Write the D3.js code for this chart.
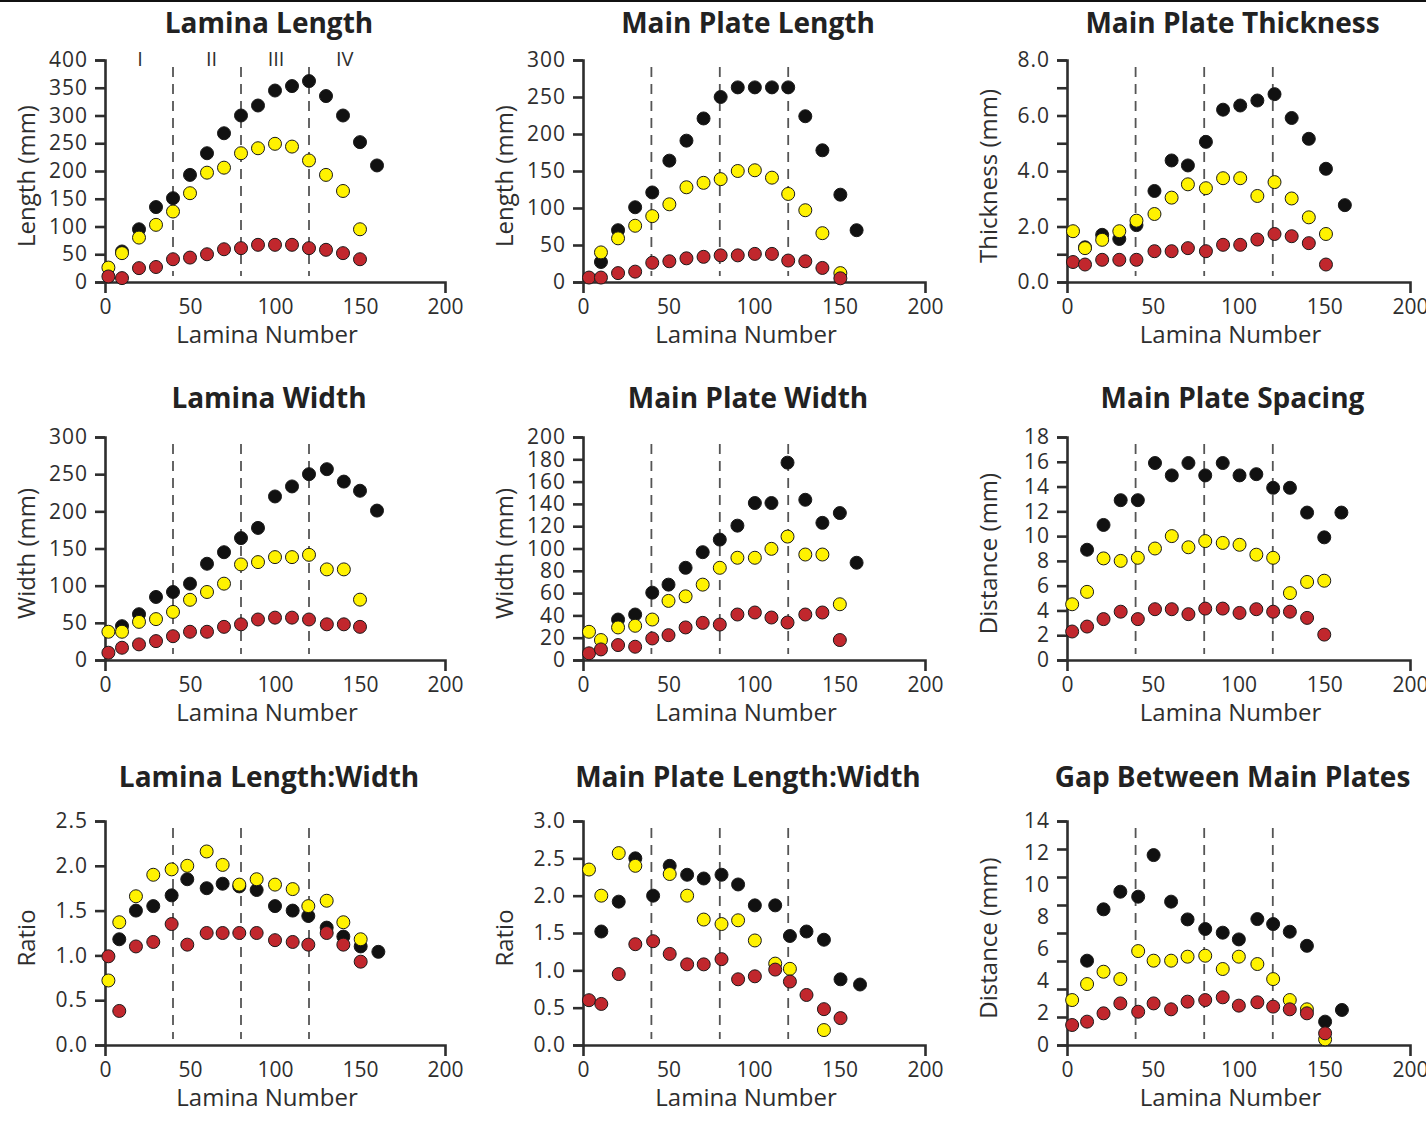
<!DOCTYPE html>
<html>
<head>
<meta charset="utf-8">
<script src="https://cdn.jsdelivr.net/npm/d3@7"></script>
<style>
body { margin: 0; background: #fff; }
svg { display: block; font-family: "Open Sans", sans-serif; }
</style>
</head>
<body>
<svg id="chart" width="1426" height="1141"></svg>
<script>
// shared
var dividers = [40, 80, 120];
var xTicks = [0, 50, 100, 150, 200];
var romanLabels = ['I', 'II', 'III', 'IV'];
var romanPos = [20.6, 62.7, 100.6, 141];

// Lamina Length
var llX      = [2, 10, 20, 30, 40, 50, 60, 70, 80, 90, 100, 110, 120, 130, 140, 150, 160];
var llBlack  = [null, 55, 95, 135, 151, 193, 232, 268, 300, 318, 345, 353, 362, 335, 300, 252, 210];
var llYellow = [26, 52, 80, 103, 127, 160, 197, 206, 232, 241, 249, 244, 219, 193, 164, 95, null];
var llRed    = [10, 7, 25, 27, 41, 44, 50, 59, 61, 67, 67, 67, 61, 58, 52, 41, null];

// Main Plate Length
var mplX      = [3.5, 10.5, 20.5, 30.5, 40.5, 50.5, 60.5, 70.5, 80.5, 90.5, 100.5, 110.5, 120, 130, 140, 150.5, 160];
var mplBlack  = [null, 27, 70, 101, 121, 164, 191, 221, 250, 263, 263, 263, 263, 224, 178, 118, 70];
var mplYellow = [null, 40, 59, 76, 89, 105, 128, 134, 139, 150, 151, 141, 119, 97, 66, 12, null];
var mplRed    = [6, 6, 12, 14, 26, 28, 32, 34, 36, 36, 38, 38, 29, 28, 19, 5, null];

// Main Plate Thickness
var mptX      = [3.5, 10.5, 20.5, 30.5, 40.5, 51, 61, 70.5, 81, 91, 101, 111, 121, 131, 141, 151, 162];
var mptBlack  = [null, 1.25, 1.7, 1.55, 2.05, 3.28, 4.38, 4.2, 5.05, 6.21, 6.36, 6.54, 6.77, 5.91, 5.16, 4.08, 2.77];
var mptYellow = [1.83, 1.22, 1.52, 1.83, 2.21, 2.45, 3.04, 3.52, 3.38, 3.74, 3.74, 3.1, 3.6, 3.01, 2.33, 1.73, null];
var mptRed    = [0.72, 0.63, 0.8, 0.8, 0.8, 1.11, 1.11, 1.22, 1.11, 1.34, 1.34, 1.53, 1.73, 1.65, 1.4, 0.63, null];

// Lamina Width
var lwX      = [2, 10, 20, 30, 40, 50, 60, 70, 80, 90, 100, 110, 120, 130.5, 140.5, 150, 160];
var lwBlack  = [null, 45.5, 61.6, 84.8, 91.5, 102.7, 129.5, 145, 164, 177.7, 220, 233.5, 250, 256.7, 240, 227.7, 201];
var lwYellow = [38, 38, 51.3, 55, 64.7, 81, 91.5, 102.7, 128.6, 131.7, 138.4, 138.4, 141.5, 121.9, 121.9, 81.2, null];
var lwRed    = [9.8, 16.5, 21, 25.4, 32, 38, 38, 44.6, 48, 54.5, 57, 57, 54.5, 48, 48, 44.6, null];

// Main Plate Width
var mpwX      = [3.5, 10.5, 20.5, 30.5, 40.5, 50, 60, 70, 80, 90.3, 100.5, 110.2, 119.6, 130, 140, 150.2, 160];
var mpwBlack  = [null, null, 36.3, 40.8, 60.4, 67.6, 82.7, 96.7, 108, 120.5, 140.8, 140.8, 177, 143.7, 123, 131.8, 87.2];
var mpwYellow = [25.3, 17.9, 29.2, 30.7, 36.3, 53, 57.1, 67.6, 82.7, 91.7, 91.7, 99.7, 110.7, 94.6, 94.6, 50, null];
var mpwRed    = [6, 9.5, 13.4, 11.9, 19.3, 22.3, 29.2, 33.3, 31.8, 40.8, 42.6, 38.1, 33.6, 40.8, 42.6, 17.9, null];

// Main Plate Spacing
var mpsX      = [3, 11.7, 21.3, 31.3, 41.3, 51.3, 61.1, 70.8, 80.6, 90.8, 100.6, 110.4, 120.2, 130, 140, 150, 160];
var mpsBlack  = [null, 8.9, 10.9, 12.9, 12.9, 15.9, 14.9, 15.9, 14.9, 15.9, 14.9, 15, 13.9, 13.9, 11.9, 9.9, 11.9];
var mpsYellow = [4.5, 5.5, 8.2, 8, 8.25, 9, 10, 9.1, 9.6, 9.45, 9.3, 8.5, 8.25, 5.4, 6.3, 6.4, null];
var mpsRed    = [2.3, 2.7, 3.3, 3.9, 3.3, 4.1, 4.1, 3.7, 4.15, 4.15, 3.8, 4.1, 3.9, 3.9, 3.4, 2.05, null];

// Lamina Length:Width
var lrX      = [2, 8.4, 18.2, 28.4, 39.2, 48.4, 59.8, 69.2, 79, 89.2, 100, 110.4, 119.6, 130.4, 140.2, 150.4, 160.8];
var lrBlack  = [null, 1.18, 1.5, 1.55, 1.67, 1.85, 1.75, 1.8, 1.77, 1.73, 1.55, 1.5, 1.44, 1.31, 1.21, 1.1, 1.04];
var lrYellow = [0.72, 1.37, 1.66, 1.9, 1.96, 2.0, 2.16, 2.01, 1.79, 1.85, 1.79, 1.74, 1.55, 1.61, 1.37, 1.18, null];
var lrRed    = [0.99, 0.38, 1.1, 1.15, 1.35, 1.12, 1.25, 1.25, 1.25, 1.25, 1.17, 1.15, 1.12, 1.25, 1.12, 0.93, null];

// Main Plate Length:Width
var mprX      = [3.5, 10.7, 20.9, 30.6, 41, 50.7, 60.9, 70.6, 81, 90.7, 100.5, 112.4, 121, 130.7, 140.9, 150.6, 162];
var mprBlack  = [null, 1.52, 1.92, 2.5, 2.0, 2.4, 2.28, 2.23, 2.28, 2.15, 1.87, 1.87, 1.46, 1.52, 1.41, 0.88, 0.81];
var mprYellow = [2.35, 2.0, 2.57, 2.4, null, 2.29, 2.0, 1.68, 1.62, 1.67, 1.4, 1.09, 1.02, null, 0.2, null, null];
var mprRed    = [0.6, 0.55, 0.95, 1.35, 1.39, 1.22, 1.08, 1.08, 1.15, 0.88, 0.92, 1.01, 0.85, 0.67, 0.48, 0.36, null];

// Gap Between Main Plates
var gapX      = [3, 11.7, 21.3, 31.1, 41.5, 50.5, 60.7, 70.3, 80.6, 90.8, 100.2, 111, 120.2, 129.9, 139.9, 150.5, 160.3];
var gapBlack  = [null, 5.27, 8.48, 9.58, 9.27, 11.87, 8.96, 7.85, 7.25, 7.02, 6.6, 7.87, 7.56, 7.08, 6.2, 1.46, 2.19];
var gapYellow = [2.81, 3.81, 4.58, 4.12, 5.87, 5.27, 5.27, 5.52, 5.58, 4.75, 5.52, 5.06, 4.12, 2.81, 2.23, 0.35, null];
var gapRed    = [1.25, 1.46, 1.98, 2.6, 2.08, 2.6, 2.23, 2.71, 2.81, 2.98, 2.46, 2.67, 2.4, 2.23, 1.98, 0.73, null];

var panels = [
  {title: 'Lamina Length', ylab: 'Length (mm)', yMax: 400, yTicks: d3.range(0, 401, 50), yLabels: d3.range(0, 401, 50), fmt: d3.format('d'),
   xs: llX, black: llBlack, yellow: llYellow, red: llRed, roman: true},
  {title: 'Main Plate Length', ylab: 'Length (mm)', yMax: 300, yTicks: d3.range(0, 301, 50), yLabels: d3.range(0, 301, 50), fmt: d3.format('d'),
   xs: mplX, black: mplBlack, yellow: mplYellow, red: mplRed},
  {title: 'Main Plate Thickness', ylab: 'Thickness (mm)', yMax: 8, yTicks: d3.range(0, 9, 1), yLabels: [0, 2, 4, 6, 8], fmt: d3.format('.1f'),
   xs: mptX, black: mptBlack, yellow: mptYellow, red: mptRed},
  {title: 'Lamina Width', ylab: 'Width (mm)', yMax: 300, yTicks: d3.range(0, 301, 50), yLabels: d3.range(0, 301, 50), fmt: d3.format('d'),
   xs: lwX, black: lwBlack, yellow: lwYellow, red: lwRed},
  {title: 'Main Plate Width', ylab: 'Width (mm)', yMax: 200, yTicks: d3.range(0, 201, 20), yLabels: d3.range(0, 201, 20), fmt: d3.format('d'),
   xs: mpwX, black: mpwBlack, yellow: mpwYellow, red: mpwRed},
  {title: 'Main Plate Spacing', ylab: 'Distance (mm)', yMax: 18, yTicks: d3.range(0, 19, 2), yLabels: d3.range(0, 19, 2), fmt: d3.format('d'),
   xs: mpsX, black: mpsBlack, yellow: mpsYellow, red: mpsRed},
  {title: 'Lamina Length:Width', ylab: 'Ratio', yMax: 2.5, yTicks: [0, 0.5, 1, 1.5, 2, 2.5], yLabels: [0, 0.5, 1, 1.5, 2, 2.5], fmt: d3.format('.1f'),
   xs: lrX, black: lrBlack, yellow: lrYellow, red: lrRed},
  {title: 'Main Plate Length:Width', ylab: 'Ratio', yMax: 3, yTicks: [0, 0.5, 1, 1.5, 2, 2.5, 3], yLabels: [0, 0.5, 1, 1.5, 2, 2.5, 3], fmt: d3.format('.1f'),
   xs: mprX, black: mprBlack, yellow: mprYellow, red: mprRed},
  {title: 'Gap Between Main Plates', ylab: 'Distance (mm)', yMax: 14, yTicks: d3.range(0, 9).map(function(i){ return i * 14 / 8; }), yLabels: d3.range(0, 15, 2), fmt: d3.format('d'),
   xs: gapX, black: gapBlack, yellow: gapYellow, red: gapRed}
];

var cols = [[105, 445], [583, 925], [1067, 1410]];
var rows = [[60, 282], [437, 660], [821, 1045]];
var titleY = [33, 408, 787];
var fills = {black: '#111111', yellow: '#fff200', red: '#c1272d'};
var ink = '#2e2e2e';

var svg = d3.select('#chart');
svg.append('rect').attr('x', 0).attr('y', 0).attr('width', 1426).attr('height', 2).attr('fill', '#111');

function styleAxis(g) {
  g.attr('font-family', null).attr('font-size', null);
  g.selectAll('.domain').attr('stroke', ink).attr('stroke-width', 2.6);
  g.selectAll('.tick line').attr('stroke', ink).attr('stroke-width', 2.6);
  g.selectAll('.tick text').attr('fill', ink).style('font-size', '21px').style('font-weight', 500);
}

panels.forEach(function(p, i) {
  var row = Math.floor(i / 3);
  var c = cols[i % 3], r = rows[row];
  var x = d3.scaleLinear().domain([0, 200]).range(c);
  var y = d3.scaleLinear().domain([0, p.yMax]).range([r[1], r[0]]);
  var g = svg.append('g');

  // phase dividers
  g.selectAll('line.div')
    .data(dividers)
    .enter()
    .append('line')
    .attr('class', 'div')
    .attr('x1', function(d){ return x(d); })
    .attr('x2', function(d){ return x(d); })
    .attr('y1', r[0] + 7)
    .attr('y2', r[1] - 6)
    .attr('stroke', '#555')
    .attr('stroke-width', 1.8)
    .attr('stroke-dasharray', '10,7');

  // x axis
  g.append('g')
    .attr('transform', 'translate(0,' + r[1] + ')')
    .call(d3.axisBottom(x).tickValues(xTicks).tickSizeInner(0).tickSizeOuter(11).tickPadding(17))
    .call(styleAxis);

  // y axis ticks
  g.append('g')
    .attr('transform', 'translate(' + c[0] + ',0)')
    .call(d3.axisLeft(y).tickValues(p.yTicks).tickFormat('').tickSizeInner(10).tickSizeOuter(10))
    .call(styleAxis);

  // y axis labels
  g.append('g')
    .attr('transform', 'translate(' + c[0] + ',0)')
    .call(d3.axisLeft(y).tickValues(p.yLabels).tickFormat(p.fmt).tickSize(0).tickPadding(17))
    .call(styleAxis)
    .call(function(a){
      a.select('.domain').remove();
      a.selectAll('.tick text').style('letter-spacing', '1px');
    });

  // title
  g.append('text')
    .text(p.title)
    .attr('x', (c[0] + c[1]) / 2 - 6)
    .attr('y', titleY[row])
    .attr('text-anchor', 'middle')
    .attr('font-size', 28)
    .attr('font-weight', 'bold')
    .attr('fill', '#222');

  // axis titles
  g.append('text')
    .text('Lamina Number')
    .attr('x', (c[0] + c[1]) / 2 - 8)
    .attr('y', r[1] + 61)
    .attr('text-anchor', 'middle')
    .attr('font-size', 24)
    .style('font-weight', 500)
    .attr('fill', ink);
  g.append('text')
    .text(p.ylab)
    .attr('transform', 'translate(' + (c[0] - 70) + ',' + ((r[0] + r[1]) / 2 + 5) + ') rotate(-90)')
    .attr('text-anchor', 'middle')
    .attr('font-size', 24)
    .style('font-weight', 500)
    .attr('fill', ink);

  if (p.roman) {
    g.selectAll('text.roman')
      .data(romanLabels)
      .enter()
      .append('text')
      .attr('class', 'roman')
      .text(function(d){ return d; })
      .attr('x', function(d, j){ return x(romanPos[j]); })
      .attr('y', r[0] + 6)
      .attr('text-anchor', 'middle')
      .attr('font-size', 20)
      .attr('fill', ink);
  }

  ['black', 'yellow', 'red'].forEach(function(s) {
    var pts = p.xs.map(function(xv, j){ return {x: xv, v: p[s][j]}; })
      .filter(function(d){ return d.v !== null; });
    g.append('g')
      .selectAll('circle')
      .data(pts)
      .enter()
      .append('circle')
      .attr('cx', function(d){ return x(d.x); })
      .attr('cy', function(d){ return y(d.v); })
      .attr('r', 6.5)
      .attr('fill', fills[s])
      .attr('stroke', '#1a1a1a')
      .attr('stroke-width', 1);
  });
});
</script>
</body>
</html>
